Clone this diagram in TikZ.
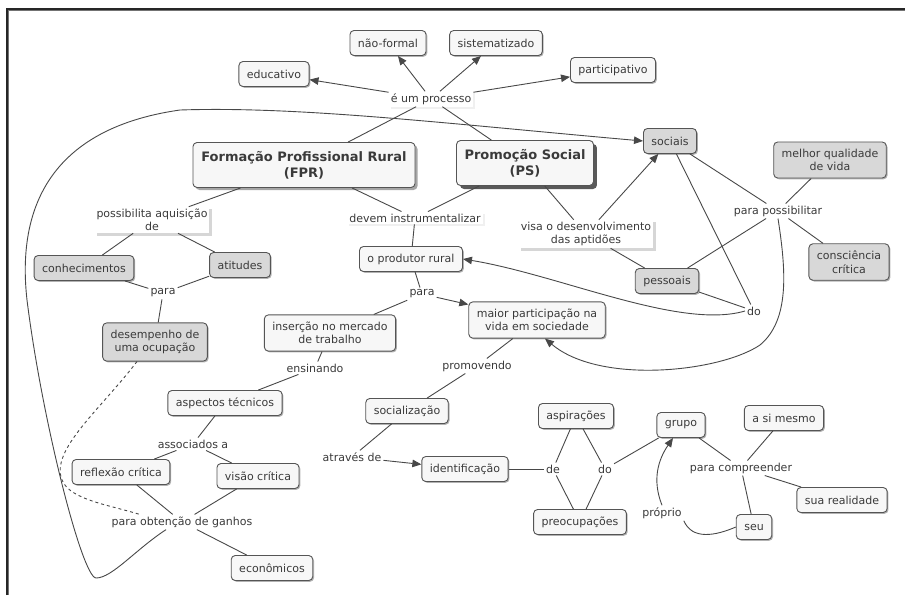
\documentclass[tikz,border=0pt]{standalone}
\usepackage{fontspec}
\setmainfont{DejaVu Sans}
\usetikzlibrary{arrows.meta,shadows,calc}
\definecolor{ink}{HTML}{3A3A3A}
\definecolor{edgecol}{HTML}{484848}
\definecolor{boxline}{HTML}{555555}
\definecolor{paper}{HTML}{F7F7F7}
\definecolor{shade}{HTML}{D8D8D8}

\tikzset{
  base/.style={font=\fontsize{11}{13.5}\selectfont, text=ink, align=center},
  boxcore/.style={base, draw=boxline, line width=0.9pt, rounded corners=4pt,
    fill=paper, inner xsep=8pt, inner ysep=4pt, minimum height=25pt},
  concept/.style={boxcore, drop shadow={shadow xshift=1.3pt, shadow yshift=-1.3pt,
    fill=black!30, opacity=1}},
  gconcept/.style={concept, fill=shade},
  twoline/.style={inner ysep=7pt},
  mainbox/.style={boxcore, font=\bfseries\fontsize{13}{16}\selectfont,
    minimum height=45pt},
  link/.style={base, fill=white, inner sep=2pt},
  plink/.style={link, drop shadow={shadow xshift=2.5pt, shadow yshift=-2.5pt,
    fill=black!16, opacity=1}},
  flink/.style={link, drop shadow={shadow xshift=2pt, shadow yshift=-2pt,
    fill=black!6, opacity=1}},
  conn/.style={draw=edgecol, line width=0.9pt},
  arr/.style={conn, -{Triangle[length=9pt,width=7.5pt]}},
}

\begin{document}
\begin{tikzpicture}[x=1pt, y=-1pt]
\useasboundingbox (0,0) rectangle (905,595);

% frame (top and left edges)
\draw[line width=2pt, color=black!85] (7,595) -- (7,9) -- (905,9);
\draw[line width=1.2pt, color=black!55] (8.8,595) -- (8.8,10.8) -- (905,10.8);

% ---- main concepts
\node[mainbox, minimum width=222pt, drop shadow={shadow xshift=2.5pt, shadow yshift=-2.5pt, fill=black!35, opacity=1}]
  (fpr) at (304,165) {Formação Profissional Rural\\(FPR)};
\node[mainbox, minimum width=136pt, drop shadow={shadow xshift=3.5pt, shadow yshift=-3.5pt, fill=black!65, opacity=1}]
  (ps) at (525,163) {Promoção Social\\(PS)};

% ---- concepts
\node[concept] (nf)   at (388,43)  {não-formal};
\node[concept] (sis)  at (496,43)  {sistematizado};
\node[concept] (edu)  at (274,74)  {educativo};
\node[concept] (part) at (613,70)  {participativo};
\node[gconcept] (soc) at (670,141) {sociais};
\node[gconcept, twoline] (mqv) at (830,160) {melhor qualidade\\de vida};
\node[gconcept] (con) at (84,268)  {conhecimentos};
\node[gconcept] (ati) at (240,265) {atitudes};
\node[gconcept, twoline] (des) at (155,342) {desempenho de\\uma ocupação};
\node[concept] (prod) at (411,259) {o produtor rural};
\node[concept, twoline] (mp) at (537,320) {maior participação na\\vida em sociedade};
\node[concept, twoline] (ins) at (330,333) {inserção no mercado\\de trabalho};
\node[gconcept] (pes) at (667,281) {pessoais};
\node[gconcept, twoline] (cc) at (849,262) {consciência\\crítica};
\node[concept] (asp)  at (225,403) {aspectos técnicos};
\node[concept] (socz) at (407,411) {socialização};
\node[concept] (refl) at (121,472) {reflexão crítica};
\node[concept] (vis)  at (258,476) {visão crítica};
\node[concept] (ident) at (465,469) {identificação};
\node[concept] (eco)  at (272,568) {econômicos};
\node[concept] (aspi) at (576,416) {aspirações};
\node[concept] (preo) at (580,522) {preocupações};
\node[concept] (grp)  at (681,425) {grupo};
\node[concept] (asi)  at (784,418) {a si mesmo};
\node[concept] (real) at (842,500) {sua realidade};
\node[concept] (seu)  at (754,527) {seu};

% ---- linking phrases
\node[flink] (proc)  at (431,99)  {é um processo};
\node[plink] (poss)  at (152,220) {possibilita aquisição\\de};
\node[flink] (dev)   at (415,218) {devem instrumentalizar};
\node[plink] (visa)  at (586,234) {visa o desenvolvimento\\das aptidões};
\node[link] (ppos)   at (778,211) {para possibilitar};
\node[link] (paraA)  at (163,293) {para};
\node[link] (paraB)  at (422,294) {para};
\node[link] (doA)    at (754,311) {do};
\node[link] (ens)    at (315,368) {ensinando};
\node[link] (prom)   at (477,366) {promovendo};
\node[link] (assoc)  at (193,444) {associados a};
\node[link] (atr)    at (352,457) {através de};
\node[link] (gan)    at (182,522) {para obtenção de ganhos};
\node[link] (deB)    at (553,469) {de};
\node[link] (doB)    at (605,469) {do};
\node[link] (comp)   at (741,468) {para compreender};
\node[link] (prop)   at (662,513) {próprio};

% ---- connectors
\draw[arr] (proc) -- (edu);
\draw[arr] (proc) -- (nf);
\draw[arr] (proc) -- (sis);
\draw[arr] (proc) -- (part);
\draw[conn] (fpr) -- (proc);
\draw[conn] (ps) -- (proc);

\draw[conn] (fpr) -- (poss);
\draw[conn] (poss) -- (con);
\draw[conn] (poss) -- (ati);
\draw[conn] (con) -- (paraA);
\draw[conn] (ati) -- (paraA);
\draw[conn] (paraA) -- (des);

\draw[conn] (fpr) -- (dev);
\draw[conn] (ps) -- (dev);
\draw[conn] (dev) -- (prod);
\draw[conn] (prod) -- (paraB);
\draw[conn] (paraB) -- (ins);
\draw[arr] (paraB) -- (mp);

\draw[conn] (ins) -- (ens);
\draw[conn] (ens) -- (asp);
\draw[conn] (asp) -- (assoc);
\draw[conn] (assoc) -- (refl);
\draw[conn] (assoc) -- (vis);
\draw[conn] (refl) -- (gan);
\draw[conn] (vis) -- (gan);
\draw[conn] (gan) -- (eco);

\draw[conn] (ps) -- (visa);
\draw[arr] (visa) -- (soc);
\draw[conn] (visa) -- (pes);
\draw[conn] (soc) -- (ppos);
\draw[conn] (soc) -- (doA);
\draw[conn] (pes) -- (ppos);
\draw[conn] (pes) -- (doA);
\draw[conn] (mqv) -- (ppos);
\draw[conn] (cc) -- (ppos);

\draw[conn] (mp) -- (prom);
\draw[conn] (prom) -- (socz);
\draw[conn] (socz) -- (atr);
\draw[arr] (atr) -- (ident);
\draw[conn] (ident) -- (deB);
\draw[conn] (deB) -- (aspi);
\draw[conn] (deB) -- (preo);
\draw[conn] (aspi) -- (doB);
\draw[conn] (preo) -- (doB);
\draw[conn] (doB) -- (grp);
\draw[conn] (grp) -- (comp);
\draw[conn] (comp) -- (asi);
\draw[conn] (comp) -- (real);
\draw[conn] (comp) -- (seu);

% curved connectors
\draw[arr] (doA.west) .. controls (680,330) and (560,275) .. (prod.east);
\draw[arr] (ppos.south) .. controls (786,270) and (790,320) .. (760,345)
  .. controls (720,372) and (600,385) .. ([xshift=8pt]mp.south);
\draw[arr] ([xshift=-16pt]gan.south) .. controls (135,550) and (112,578) .. (96,578)
  .. controls (82,577) and (42,420) .. (27,300)
  .. controls (18,220) and (40,130) .. (180,110)
  .. controls (300,106) and (450,124) .. (soc.west);
\draw[conn, dashed] ([xshift=-18pt]des.south) .. controls (100,410) and (50,450) .. (62,480)
  .. controls (70,500) and (110,505) .. ([xshift=30pt]gan.north west);
\draw[arr] (prop.north) .. controls (652,480) and (658,460) .. ([xshift=-8pt]grp.south);
\draw[conn] (seu.west) .. controls (715,536) and (692,540) .. (prop.south east);

\end{tikzpicture}
\end{document}
